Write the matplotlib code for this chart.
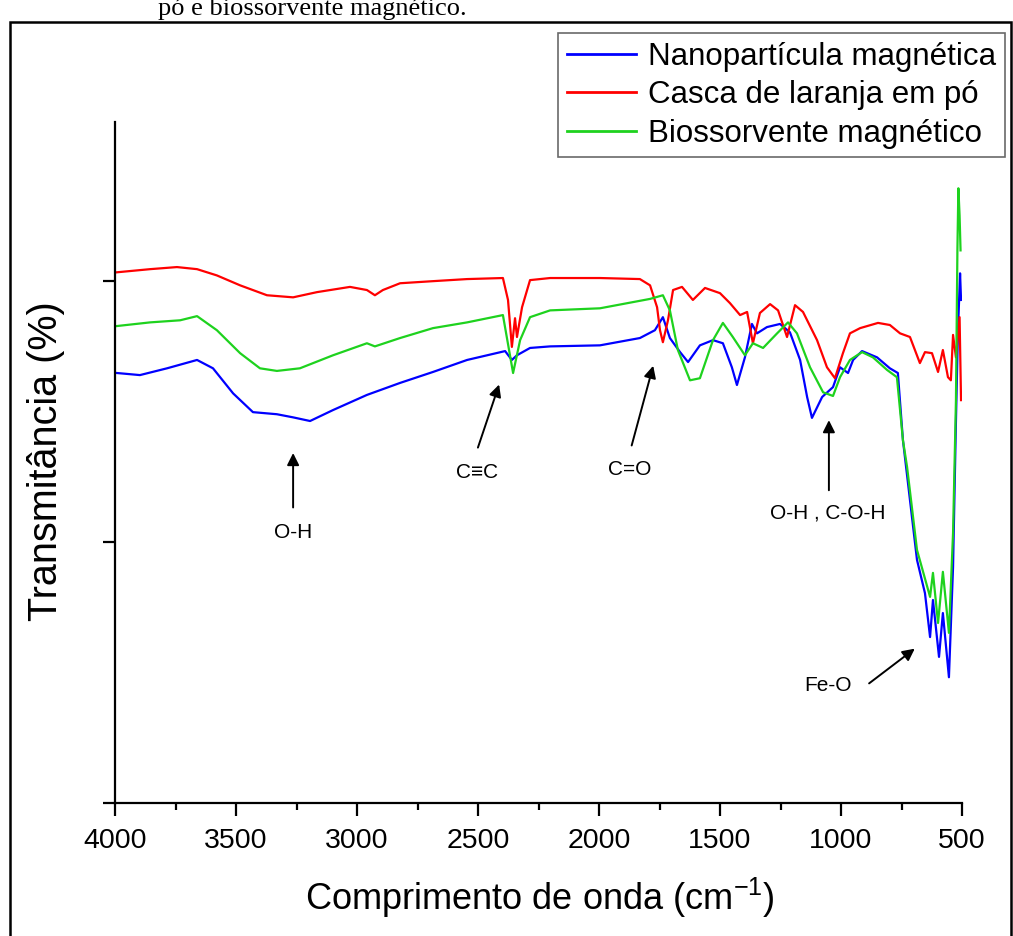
import matplotlib
matplotlib.use("Agg")
import matplotlib.pyplot as plt
from matplotlib.patches import Rectangle

plt.rcParams['font.family'] = ['Liberation Sans', 'DejaVu Sans']
plt.rcParams['mathtext.fontset'] = 'custom'
plt.rcParams['mathtext.rm'] = 'Liberation Sans'
plt.rcParams['mathtext.it'] = 'Liberation Sans'

# FTIR spectra (wavenumber cm-1, transmittance a.u.)
nano_x = [3992, 3897, 3785, 3661, 3595, 3512, 3430, 3331, 3264, 3194, 3099, 2959,
          2822, 2686, 2545, 2388, 2360, 2339, 2285, 2202, 1996, 1831, 1769, 1736,
          1707, 1665, 1632, 1583, 1529, 1488, 1451, 1430, 1397, 1368, 1347, 1306,
          1252, 1211, 1169, 1140, 1120, 1078, 1033, 1004, 971, 950, 913, 851, 798,
          765, 744, 686, 653, 632, 620, 595, 579, 554, 537, 525, 517, 508, 504]
nano_y = [82.4, 82.0, 83.3, 84.9, 83.3, 78.5, 74.9, 74.5, 73.9, 73.2, 75.3, 78.2,
          80.5, 82.6, 84.9, 86.6, 84.9, 85.8, 87.2, 87.5, 87.7, 89.1, 90.6, 93.1,
          89.1, 86.4, 84.5, 87.7, 88.7, 88.1, 83.5, 80.1, 85.4, 91.8, 90.0, 91.2,
          91.8, 90.2, 84.9, 77.8, 73.8, 77.8, 79.7, 83.5, 82.4, 84.9, 86.6, 85.4, 83.3,
          82.4, 69.5, 46.6, 40.2, 31.8, 38.9, 28.0, 36.4, 24.1, 45.2, 73.2, 90.0, 101.5, 96.4]

casca_x = [3992, 3855, 3744, 3661, 3579, 3483, 3372, 3264, 3165, 3029, 2959, 2926,
           2893, 2822, 2686, 2545, 2397, 2376, 2360, 2347, 2339, 2318, 2285, 2202,
           1996, 1831, 1789, 1760, 1748, 1736, 1715, 1694, 1657, 1612, 1562, 1500,
           1459, 1417, 1388, 1364, 1335, 1293, 1260, 1223, 1190, 1157, 1099, 1058,
           1025, 992, 963, 921, 847, 798, 756, 715, 674, 653, 624, 599, 579, 558,
           546, 537, 525, 510, 504]
casca_y = [101.7, 102.3, 102.7, 102.3, 101.1, 99.2, 97.3, 96.9, 97.9, 98.9, 98.3, 97.3,
           98.3, 99.6, 100.0, 100.4, 100.6, 96.4, 87.4, 92.9, 89.3, 95.0, 100.2, 100.6,
           100.6, 100.4, 99.2, 95.0, 90.6, 88.3, 92.5, 98.3, 98.9, 96.4, 98.7, 97.7,
           95.8, 93.5, 94.1, 88.1, 93.9, 95.6, 94.4, 89.3, 95.4, 94.1, 88.7, 83.5,
           81.4, 86.2, 90.0, 91.0, 92.0, 91.6, 90.0, 89.3, 84.3, 86.4, 86.2, 82.6, 86.8, 81.6,
           81.0, 89.7, 85.4, 93.1, 77.2]

bio_x = [3992, 3855, 3731, 3661, 3579, 3483, 3401, 3331, 3236, 3099, 2959, 2926,
         2822, 2686, 2545, 2397, 2355, 2326, 2285, 2202, 1996, 1789, 1736, 1707,
         1674, 1624, 1583, 1529, 1488, 1447, 1397, 1364, 1322, 1264, 1219, 1182,
         1128, 1074, 1033, 1004, 963, 913, 868, 810, 769, 744, 727, 686, 632, 620,
         599, 579, 554, 537, 525, 519, 515, 510, 506]
bio_y = [91.4, 92.1, 92.5, 93.3, 90.6, 86.2, 83.3, 82.8, 83.3, 85.8, 88.1, 87.5,
         89.1, 91.0, 92.1, 93.5, 82.4, 88.7, 93.1, 94.4, 94.8, 96.6, 97.3, 94.4,
         86.8, 81.0, 81.4, 88.7, 92.0, 89.3, 85.8, 88.1, 87.2, 90.0, 92.1, 90.0,
         83.5, 78.7, 78.0, 81.6, 84.9, 86.4, 85.4, 83.0, 81.6, 69.5, 64.4, 48.5, 39.5, 44.1,
         34.5, 44.3, 32.6, 51.7, 77.2, 105.9, 117.8, 112.6, 105.9]

labels = ['Nanopartícula magnética', 'Casca de laranja em pó', 'Biossorvente magnético']
colors = ['#0000ff', '#ff0000', '#1ed21e']

# band labels: text, text position, arrow tail, arrow head
bands = [
    ('O-H', (3264, 51.9), (3264, 56.1), (3264, 67.6)),
    ('C≡C', (2504, 63.4), (2504, 67.6), (2409, 80.7)),
    ('C=O', (1872, 64.0), (1868, 68.0), (1773, 84.3)),
    ('O-H , C-O-H', (1054, 55.6), (1050, 59.4), (1050, 73.9)),
    ('Fe-O', (1054, 22.6), (893, 22.6), (686, 29.9)),
]

W, H = 1013, 936
fig = plt.figure(figsize=(W / 100, H / 100), dpi=100)
ax = fig.add_axes([115 / W, 1 - 803 / H, (962 - 115) / W, (803 - 122) / H])

for xs, ys, lab, c in zip([nano_x, casca_x, bio_x], [nano_y, casca_y, bio_y], labels, colors):
    ax.plot(xs, ys, color=c, lw=1.6, label=lab)

ax.set_xlim(4000, 500)
ax.set_ylim(0, 130.5)
ax.set_xticks([4000, 3500, 3000, 2500, 2000, 1500, 1000, 500])
ax.set_xticks([3750, 3250, 2750, 2250, 1750, 1250, 750], minor=True)
ax.set_yticks([0, 50, 100])
ax.set_yticklabels([])
ax.tick_params(axis='both', which='major', length=9, width=1.6, direction='out', labelsize=20.5, pad=9)
ax.tick_params(axis='x', which='minor', length=5, width=1.6, direction='out')
for s in ['top', 'right']:
    ax.spines[s].set_visible(False)
for s in ['left', 'bottom']:
    ax.spines[s].set_linewidth(1.6)

for txt, tpos, tail, head in bands:
    ax.text(tpos[0], tpos[1], txt, ha='center', va='center', fontsize=15,
            family=['Liberation Sans', 'DejaVu Sans'])
    ax.annotate('', xy=head, xytext=tail,
                arrowprops=dict(arrowstyle='-|>', color='black', lw=1.4, mutation_scale=18))

fig.text(540 / W, 1 - 910 / H, 'Comprimento de onda (cm$^{-1}$)', ha='center', va='baseline', fontsize=26)
fig.text(46 / W, 1 - 461 / H, 'Transmitância (%)', ha='center', va='center', rotation=90, fontsize=28.5)

leg = fig.legend(loc='upper right', bbox_to_anchor=(1005 / W, 1 - 33 / H), fontsize=22.5,
                 frameon=True, fancybox=False, edgecolor='#444444', borderaxespad=0,
                 handlelength=2.2, handletextpad=0.4, labelspacing=0.27, borderpad=0.28)
leg.get_frame().set_linewidth(1.2)
for l in leg.get_lines():
    l.set_linewidth(2)

# cut-off caption above the frame and the page border
fig.text(158 / W, 1 - 15 / H, 'pó e biossorvente magnético.', ha='left', va='baseline',
         fontsize=19, family='Liberation Serif')
fig.add_artist(Rectangle((10 / W, -0.01), (1011 - 10) / W, 1.01 - 22 / H, transform=fig.transFigure,
                         fill=False, edgecolor='black', lw=1.8))

fig.savefig('out.png', dpi=100)
